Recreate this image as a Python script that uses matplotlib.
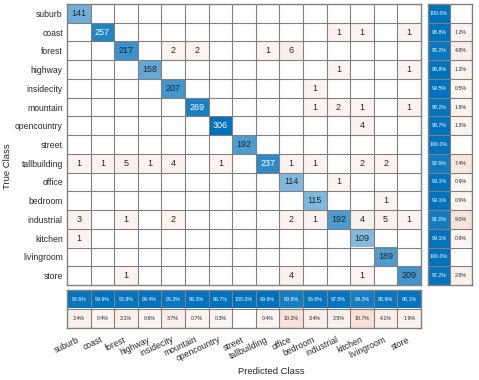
import numpy as np
import matplotlib.pyplot as plt

plt.rcParams['font.family'] = ['Liberation Sans', 'DejaVu Sans']

# Class names and confusion counts (rows = true class, cols = predicted)
classes = ['suburb', 'coast', 'forest', 'highway', 'insidecity', 'mountain',
           'opencountry', 'street', 'tallbuilding', 'office', 'bedroom',
           'industrial', 'kitchen', 'livingroom', 'store']

cm = np.array([
    [141, 0, 0, 0, 0, 0, 0, 0, 0, 0, 0, 0, 0, 0, 0],
    [0, 257, 0, 0, 0, 0, 0, 0, 0, 0, 0, 1, 1, 0, 1],
    [0, 0, 217, 0, 2, 2, 0, 0, 1, 6, 0, 0, 0, 0, 0],
    [0, 0, 0, 158, 0, 0, 0, 0, 0, 0, 0, 1, 0, 0, 1],
    [0, 0, 0, 0, 207, 0, 0, 0, 0, 0, 1, 0, 0, 0, 0],
    [0, 0, 0, 0, 0, 269, 0, 0, 0, 0, 1, 2, 1, 0, 1],
    [0, 0, 0, 0, 0, 0, 306, 0, 0, 0, 0, 0, 4, 0, 0],
    [0, 0, 0, 0, 0, 0, 0, 192, 0, 0, 0, 0, 0, 0, 0],
    [1, 1, 5, 1, 4, 0, 1, 0, 237, 1, 1, 0, 2, 2, 0],
    [0, 0, 0, 0, 0, 0, 0, 0, 0, 114, 0, 1, 0, 0, 0],
    [0, 0, 0, 0, 0, 0, 0, 0, 0, 0, 115, 0, 0, 1, 0],
    [3, 0, 1, 0, 2, 0, 0, 0, 0, 2, 1, 192, 4, 5, 1],
    [1, 0, 0, 0, 0, 0, 0, 0, 0, 0, 0, 0, 109, 0, 0],
    [0, 0, 0, 0, 0, 0, 0, 0, 0, 0, 0, 0, 0, 189, 0],
    [0, 0, 1, 0, 0, 0, 0, 0, 0, 4, 0, 0, 1, 0, 209],
])

# summaries as shown in the chart (%)
row_correct = [100.0, 98.8, 95.2, 98.8, 99.5, 98.2, 98.7, 100.0, 92.6, 99.1, 99.1, 91.0, 99.1, 100.0, 97.2]
row_error = [0.0, 1.2, 4.8, 1.2, 0.5, 1.8, 1.3, 0.0, 7.4, 0.9, 0.9, 9.0, 0.9, 0.0, 2.8]
col_correct = [96.6, 99.6, 96.9, 99.4, 96.3, 99.3, 99.7, 100.0, 99.6, 89.8, 96.6, 97.5, 89.3, 95.9, 98.1]
col_error = [3.4, 0.4, 3.1, 0.6, 3.7, 0.7, 0.3, 0.0, 0.4, 10.2, 3.4, 2.5, 10.7, 4.1, 1.9]

blue = np.array([0.0, 0.447, 0.741])
orange = np.array([0.851, 0.325, 0.098])
txt_dark = (0.15, 0.15, 0.15)
grid_col = (0.5, 0.5, 0.5)


def mix(c, a):
    return (1 - a) * np.ones(3) + a * c


def draw_cells(ax, rgb, texts, tcolors, fs):
    nr, nc = rgb.shape[:2]
    ax.imshow(rgb, aspect='auto', interpolation='nearest',
              extent=(-0.5, nc - 0.5, nr - 0.5, -0.5))
    for i in range(nr):
        for j in range(nc):
            if texts[i][j]:
                ax.text(j, i, texts[i][j], ha='center', va='center',
                        fontsize=fs, color=tcolors[i][j])
    ax.hlines(np.arange(nr - 1) + 0.5, -0.5, nc - 0.5, color=grid_col, lw=0.8)
    ax.vlines(np.arange(nc - 1) + 0.5, -0.5, nr - 0.5, color=grid_col, lw=0.8)
    for s in ax.spines.values():
        s.set_color(grid_col)
        s.set_linewidth(1.0)
    ax.tick_params(length=0)
    ax.set_xticks([])
    ax.set_yticks([])


n = len(classes)
vmax = cm.max()

# main matrix
rgb = np.ones((n, n, 3))
texts = [[''] * n for _ in range(n)]
tcol = [[txt_dark] * n for _ in range(n)]
for i in range(n):
    for j in range(n):
        v = cm[i, j]
        if v == 0:
            continue
        texts[i][j] = str(v)
        if i == j:
            rgb[i, j] = mix(blue, 0.2 + 0.8 * v / vmax)
            if v / vmax > 0.75:
                tcol[i][j] = 'white'
        else:
            rgb[i, j] = mix(orange, 0.06 + 0.005 * v)

fig = plt.figure(figsize=(4.79, 3.80), dpi=100)

ax = fig.add_axes([67 / 479, 1 - 285 / 380, 354 / 479, 281 / 380])
draw_cells(ax, rgb, texts, tcol, 6.5)
ax.set_yticks(range(n))
ax.set_yticklabels(classes, fontsize=6.2, color=txt_dark)
ax.tick_params(axis='y', pad=3)

# row summary
rs = np.ones((n, 2, 3))
rs_txt = [['', ''] for _ in range(n)]
rs_col = [['white', txt_dark] for _ in range(n)]
for i in range(n):
    rs[i, 0] = mix(blue, 0.2 + 0.8 * row_correct[i] / 100)
    rs_txt[i][0] = '%.1f%%' % row_correct[i]
    if row_error[i] > 0:
        rs[i, 1] = mix(orange, 0.05 + 1.2 * row_error[i] / 100)
        rs_txt[i][1] = '%.1f%%' % row_error[i]
ax_r = fig.add_axes([428 / 479, 1 - 285 / 380, 44 / 479, 281 / 380])
draw_cells(ax_r, rs, rs_txt, rs_col, 3.8)

# column summary
cs = np.ones((2, n, 3))
cs_txt = [[''] * n for _ in range(2)]
cs_col = [['white'] * n, [txt_dark] * n]
for j in range(n):
    cs[0, j] = mix(blue, 0.2 + 0.8 * col_correct[j] / 100)
    cs_txt[0][j] = '%.1f%%' % col_correct[j]
    if col_error[j] > 0:
        cs[1, j] = mix(orange, 0.05 + 1.2 * col_error[j] / 100)
        cs_txt[1][j] = '%.1f%%' % col_error[j]
ax_c = fig.add_axes([67 / 479, 1 - 328 / 380, 354 / 479, 38 / 380])
draw_cells(ax_c, cs, cs_txt, cs_col, 3.8)
ax_c.set_xticks(range(n))
ax_c.set_xticklabels(classes, fontsize=6.2, color=txt_dark, rotation=25,
                     ha='right', va='center', rotation_mode='anchor')
ax_c.tick_params(axis='x', pad=8)

fig.text(271 / 479, 1 - 372 / 380, 'Predicted Class', ha='center', va='center',
         fontsize=6.8, color=txt_dark)
fig.text(8 / 479, 1 - 166 / 380, 'True Class', ha='center', va='center',
         rotation=90, fontsize=6.8, color=txt_dark)

plt.savefig('out.png', dpi=100)
